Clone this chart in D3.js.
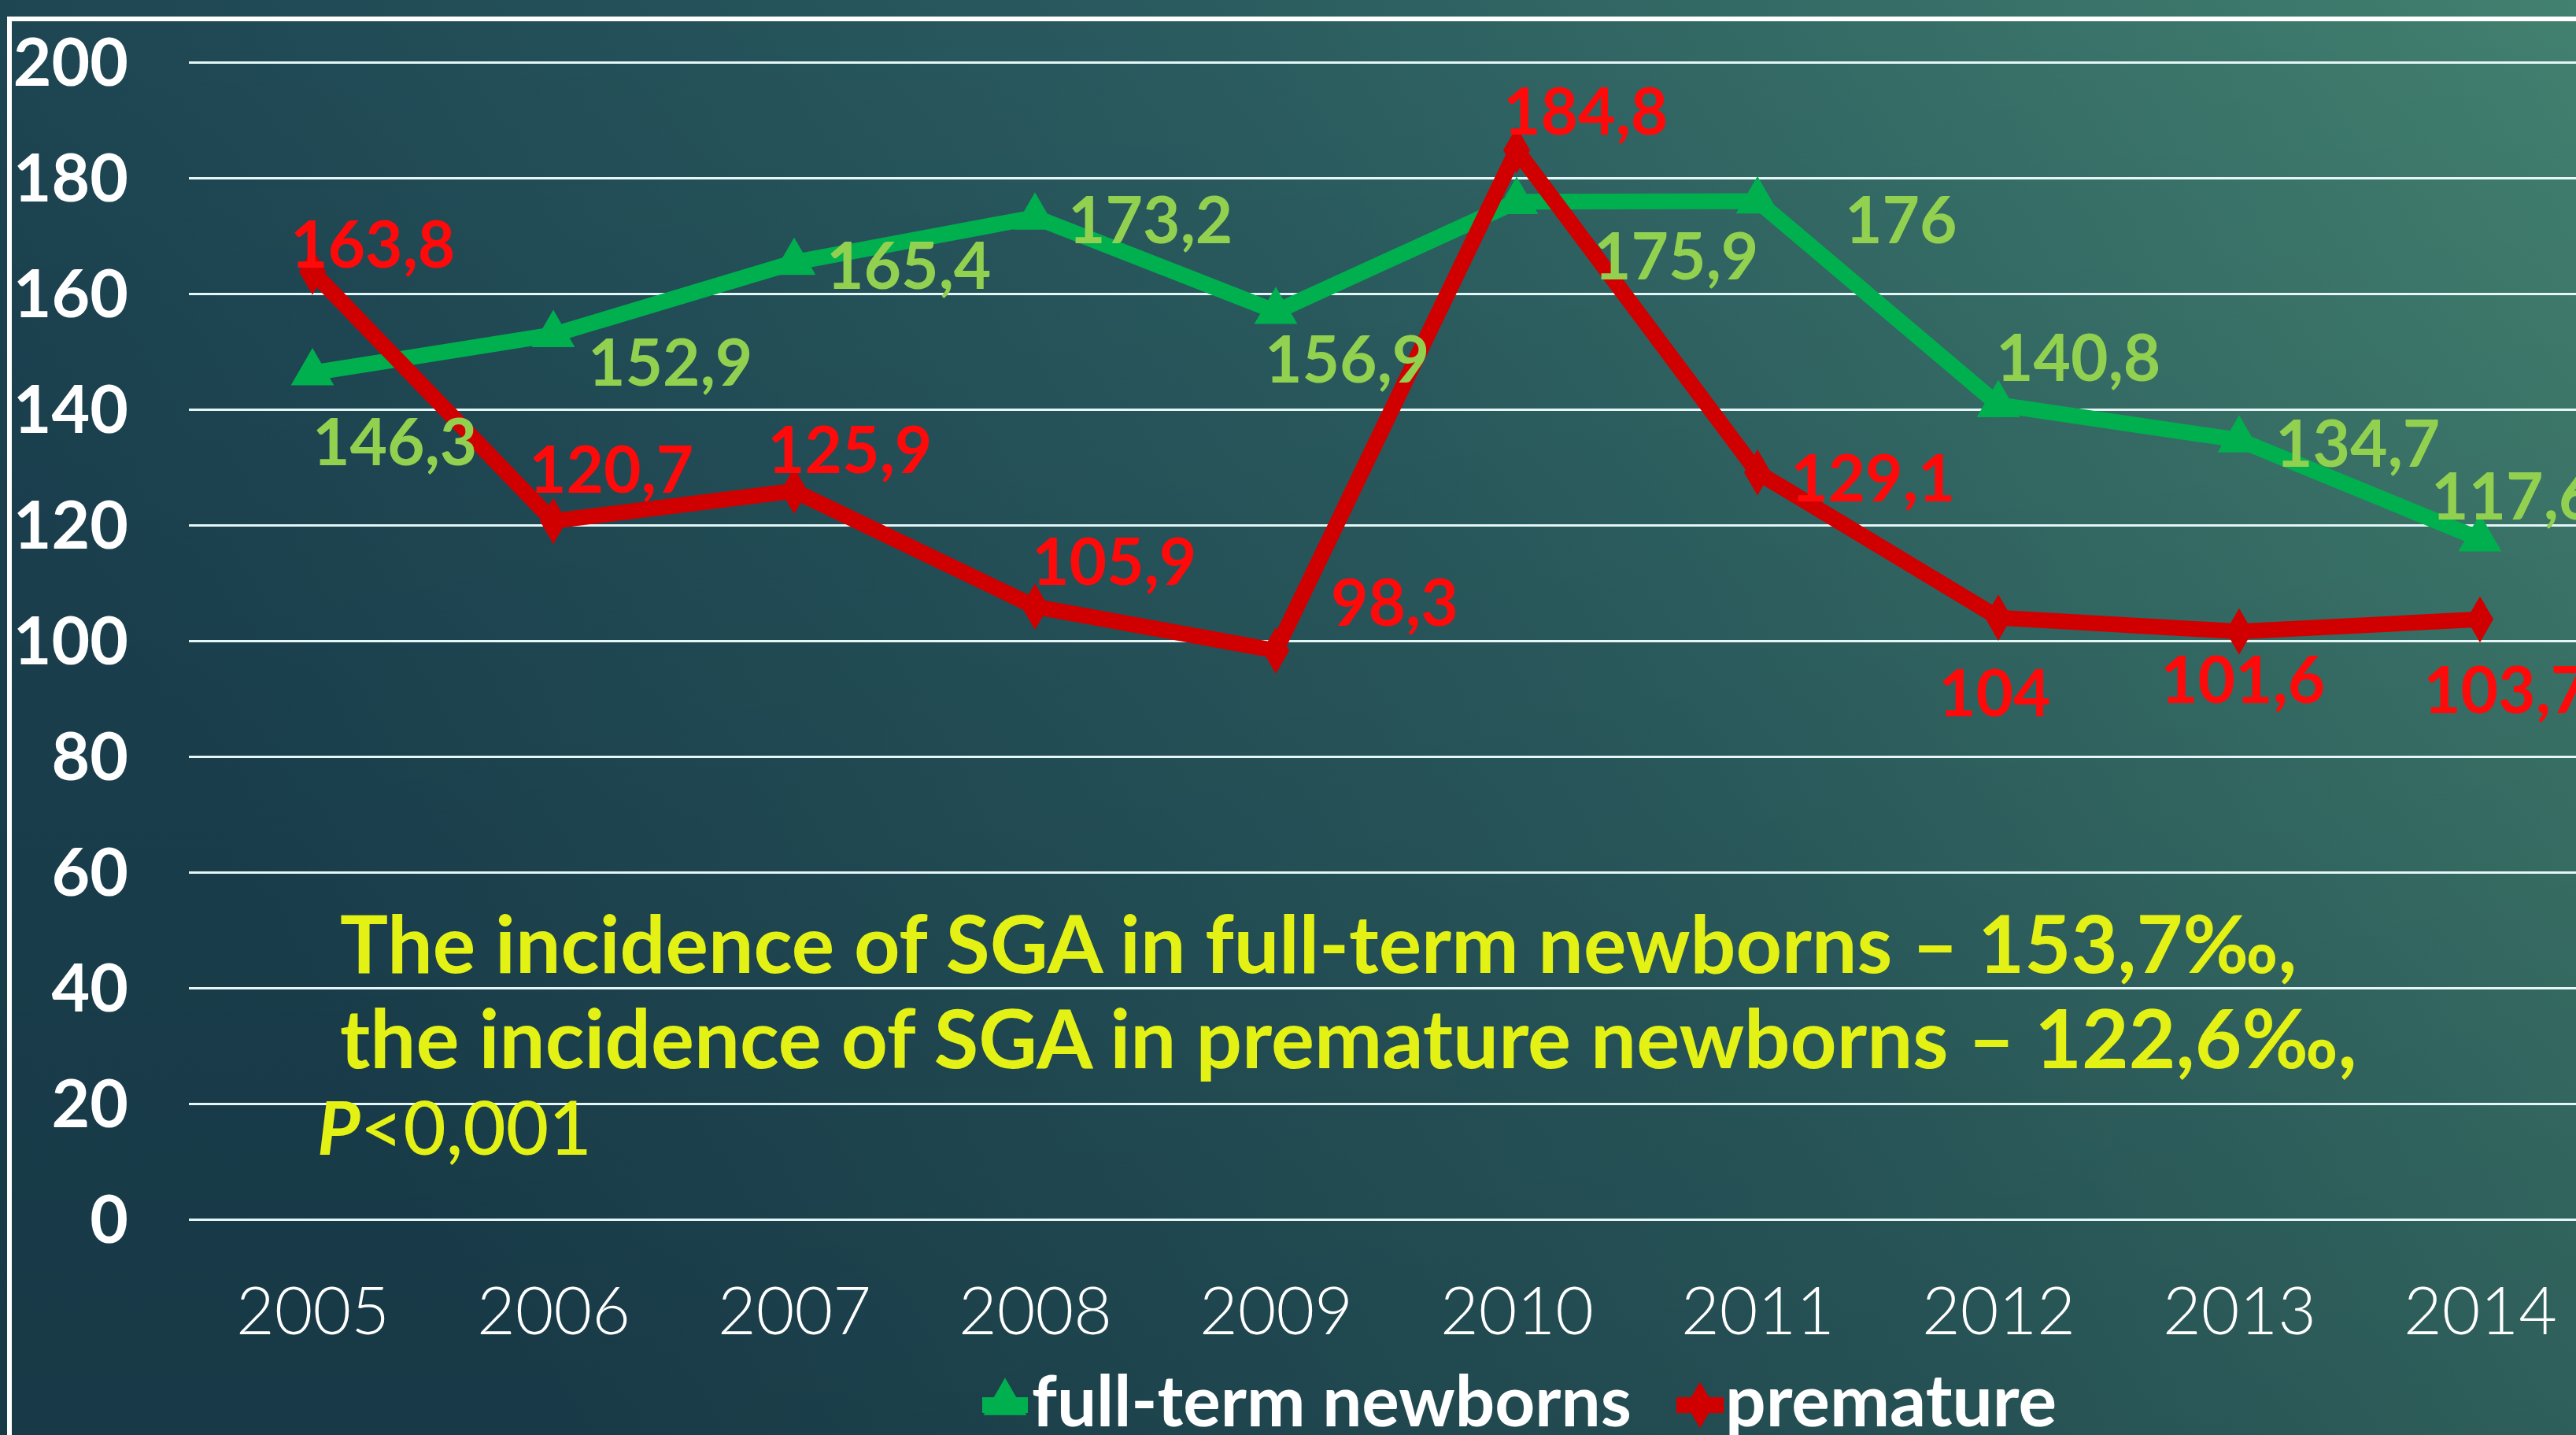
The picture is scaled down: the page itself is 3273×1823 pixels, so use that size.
<!DOCTYPE html>
<html><head><meta charset="utf-8">
<script src="https://cdn.jsdelivr.net/npm/d3@7"></script>
<style>html,body{margin:0;padding:0;overflow:hidden;background:#1d4553}</style>
</head><body>
<script>
const years = ["2005","2006","2007","2008","2009","2010","2011","2012","2013","2014"];
const fullTerm = [146.3,152.9,165.4,173.2,156.9,175.9,176,140.8,134.7,117.6];
const premature = [163.8,120.7,125.9,105.9,98.3,184.8,129.1,104,101.6,103.7];
const fullTermLabels = ["146,3","152,9","165,4","173,2","156,9","175,9","176","140,8","134,7","117,6"];
const prematureLabels = ["163,8","120,7","125,9","105,9","98,3","184,8","129,1","104","101,6","103,7"];
const yTicks = [0,20,40,60,80,100,120,140,160,180,200];
const seriesNames = ["full-term newborns","premature"];
const noteLines = ["The incidence of SGA in full-term newborns – 153,7‰,","the incidence of SGA in premature newborns – 122,6‰,"];
const noteP = ["P","<0,001"];
// label offsets (layout only)
const ftOff = [[0,117],[44,65],[41,34],[42,33],[-14,90],[98,99],[111,54],[-3,-30],[46,34],[-62,-25]];
const prOff = [[-28,-5],[-31,-36],[-34,-23],[-4,-28],[70,-31],[-17,-20],[42,37],[-76,125],[-100,91],[-72,119]];

const W = 3273, H = 1823;
const FONT = "Lato, 'DejaVu Sans', sans-serif";
const svg = d3.select("body").append("svg").attr("width",W).attr("height",H);
const defs = svg.append("defs");
const g = defs.append("linearGradient").attr("id","bg").attr("x1","0").attr("y1","0.3").attr("x2","1").attr("y2","0");
g.append("stop").attr("offset","0").attr("stop-color","#1b4150");
g.append("stop").attr("offset","0.5").attr("stop-color","#2a5b5f");
g.append("stop").attr("offset","1").attr("stop-color","#42806f");
svg.append("rect").attr("width",W).attr("height",H).attr("fill","url(#bg)");
const g2 = defs.append("linearGradient").attr("id","shade").attr("x1","0").attr("y1","0").attr("x2","0").attr("y2","1");
g2.append("stop").attr("offset","0").attr("stop-color","#000").attr("stop-opacity",0);
g2.append("stop").attr("offset","1").attr("stop-color","#000").attr("stop-opacity",0.12);
svg.append("rect").attr("width",W).attr("height",H).attr("fill","url(#shade)");

// frame
svg.append("rect").attr("x",12).attr("y",24).attr("width",W+50).attr("height",H+50)
  .attr("fill","none").attr("stroke","#ffffff").attr("stroke-width",6);

const x = d3.scalePoint().domain(years).range([397,3151]);
const y = d3.scaleLinear().domain([0,200]).range([1549,79]);

// y axis + grid
const yAx = svg.append("g").attr("transform","translate(240,0)")
  .call(d3.axisLeft(y).tickValues(yTicks).tickSize(-(W-240)).tickPadding(77).tickFormat(d3.format("d")));
yAx.select(".domain").remove();
yAx.selectAll(".tick line").attr("stroke","#e4f6f6").attr("stroke-width",3);
yAx.selectAll(".tick text").attr("fill","#ffffff").attr("font-family",FONT).attr("font-weight",700)
  .attr("font-size",84).attr("dy","0.35em");

// x axis
const xAx = svg.append("g").attr("transform","translate(0,1549)")
  .call(d3.axisBottom(x).tickSize(0).tickPadding(0));
xAx.select(".domain").remove();
xAx.selectAll(".tick text").attr("fill","#ffffff").attr("font-family",FONT).attr("font-weight",300)
  .attr("font-size",84).attr("dy",null).attr("y",146);

// annotation
const note = svg.append("g").attr("fill","#e3f214").attr("font-family",FONT).attr("font-weight",700).attr("font-size",102);
note.append("text").attr("x",432).attr("y",1236).text(noteLines[0]);
note.append("text").attr("x",432).attr("y",1357).attr("font-size",103).text(noteLines[1]);
const pt = note.append("text").attr("x",403).attr("y",1467).attr("font-size",94);
pt.append("tspan").attr("font-style","italic").text(noteP[0]);
pt.append("tspan").attr("font-weight",500).text(noteP[1]);

const line = d3.line().x((d,i)=>x(years[i])).y(d=>y(d));
const tri = d3.symbol().type(d3.symbolTriangle).size(1300);
const dia = d3.symbol().type(d3.symbolDiamond).size(1000);

function drawSeries(vals, color, sym, labels, off, lcolor){
  const s = svg.append("g");
  s.append("path").datum(vals).attr("d",line).attr("fill","none").attr("stroke",color)
    .attr("stroke-width",20).attr("stroke-linejoin","round");
  s.selectAll("path.m").data(vals).join("path").attr("class","m").attr("d",sym).attr("fill",color)
    .attr("transform",(d,i)=>`translate(${x(years[i])},${y(d)})`);
  return {g:s, labels, off, lcolor, vals};
}
const A = drawSeries(fullTerm,"#00b04f",tri,fullTermLabels,ftOff,"#92d050");
const B = drawSeries(premature,"#d00000",dia,prematureLabels,prOff,"#ff0a0a");
[A,B].forEach(S=>{
  svg.append("g").selectAll("text").data(S.vals).join("text")
    .attr("x",(d,i)=>x(years[i])+S.off[i][0]).attr("y",(d,i)=>y(d)+S.off[i][1])
    .attr("fill",S.lcolor).attr("font-family",FONT).attr("font-weight",700).attr("font-size",82)
    .text((d,i)=>S.labels[i]);
});

// legend
const lg = svg.append("g").attr("font-family",FONT).attr("font-weight",700).attr("font-size",89).attr("fill","#ffffff");
lg.append("line").attr("x1",1248).attr("x2",1306).attr("y1",1785).attr("y2",1785).attr("stroke","#00b04f").attr("stroke-width",20);
lg.append("path").attr("d",tri).attr("fill","#00b04f").attr("transform","translate(1277,1782)");
lg.append("text").attr("x",1311).attr("y",1812).text(seriesNames[0]);
lg.append("line").attr("x1",2130).attr("x2",2190).attr("y1",1785).attr("y2",1785).attr("stroke","#d00000").attr("stroke-width",20);
lg.append("path").attr("d",dia).attr("fill","#d00000").attr("transform","translate(2160,1785)");
lg.append("text").attr("x",2192).attr("y",1812).attr("font-size",91).text(seriesNames[1]);
</script>
</body></html>
